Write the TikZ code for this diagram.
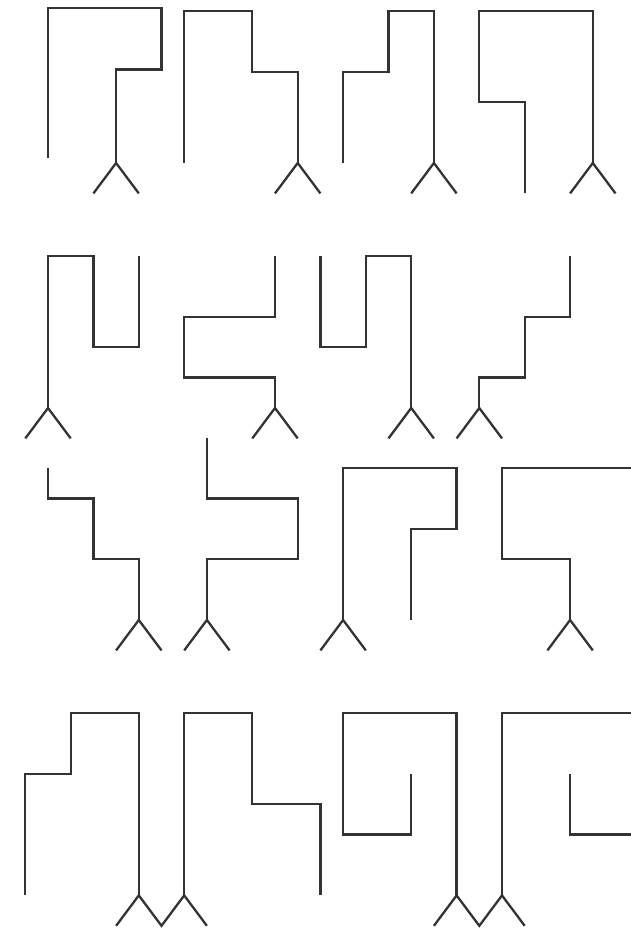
\documentclass[tikz,border=0pt]{standalone}
\begin{document}
\begin{tikzpicture}[x=22.7pt,y=-30.4pt,
  wire/.style={line width=2.3pt, draw=black!80, line join=miter}]
\path[use as bounding box] (-48pt,11pt) rectangle (583pt,-920pt);
\clip (-48pt,11pt) rectangle (583pt,-920pt);
% ---------- row 1 ----------
\begin{scope}
  \draw[wire] (0,4.85)--(0,-0.09)--(5,-0.09)--(5,1.92)--(3,1.92)--(3,5);
  \draw[wire] (2,6)--(3,5)--(4,6);
  \draw[wire] (6,5)--(6,0)--(9,0)--(9,2)--(11,2)--(11,5);
  \draw[wire] (10,6)--(11,5)--(12,6);
  \draw[wire] (13,5)--(13,2)--(15,2)--(15,0)--(17,0)--(17,5);
  \draw[wire] (16,6)--(17,5)--(18,6);
  \draw[wire] (21,6)--(21,3)--(19,3)--(19,0)--(24,0)--(24,5);
  \draw[wire] (23,6)--(24,5)--(25,6);
\end{scope}
% ---------- row 2 ----------
\begin{scope}[yshift=-245pt]
  \draw[wire] (0,5)--(0,0)--(2,0)--(2,3)--(4,3)--(4,0);
  \draw[wire] (-1,6)--(0,5)--(1,6);
  \draw[wire] (10,0)--(10,2)--(6,2)--(6,4)--(10,4)--(10,5);
  \draw[wire] (9,6)--(10,5)--(11,6);
  \draw[wire] (12,0)--(12,3)--(14,3)--(14,0)--(16,0)--(16,5);
  \draw[wire] (15,6)--(16,5)--(17,6);
  \draw[wire] (23,0)--(23,2)--(21,2)--(21,4)--(19,4)--(19,5);
  \draw[wire] (18,6)--(19,5)--(20,6);
\end{scope}
% ---------- row 3 ----------
\begin{scope}[yshift=-457pt]
  \draw[wire] (0,0)--(0,1)--(2,1)--(2,3)--(4,3)--(4,5);
  \draw[wire] (3,6)--(4,5)--(5,6);
  \draw[wire] (7,-1)--(7,1)--(11,1)--(11,3)--(7,3)--(7,5);
  \draw[wire] (6,6)--(7,5)--(8,6);
  \draw[wire] (16,5)--(16,2)--(18,2)--(18,0)--(13,0)--(13,5);
  \draw[wire] (12,6)--(13,5)--(14,6);
  \draw[wire] (26,0)--(20,0)--(20,3)--(23,3)--(23,5);
  \draw[wire] (22,6)--(23,5)--(24,6);
\end{scope}
% ---------- row 4 ----------
\begin{scope}[yshift=-702pt]
  \draw[wire] (-1,6)--(-1,2)--(1,2)--(1,0)--(4,0)--(4,6);
  \draw[wire] (3,7)--(4,6)--(5,7)--(6,6)--(7,7);
  \draw[wire] (6,6)--(6,0)--(9,0)--(9,3)--(12,3)--(12,6);
  \draw[wire] (16,2)--(16,4)--(13,4)--(13,0)--(18,0)--(18,6);
  \draw[wire] (17,7)--(18,6)--(19,7)--(20,6)--(21,7);
  \draw[wire] (23,2)--(23,4)--(26,4);
  \draw[wire] (26,0)--(20,0)--(20,6);
\end{scope}
\end{tikzpicture}
\end{document}
